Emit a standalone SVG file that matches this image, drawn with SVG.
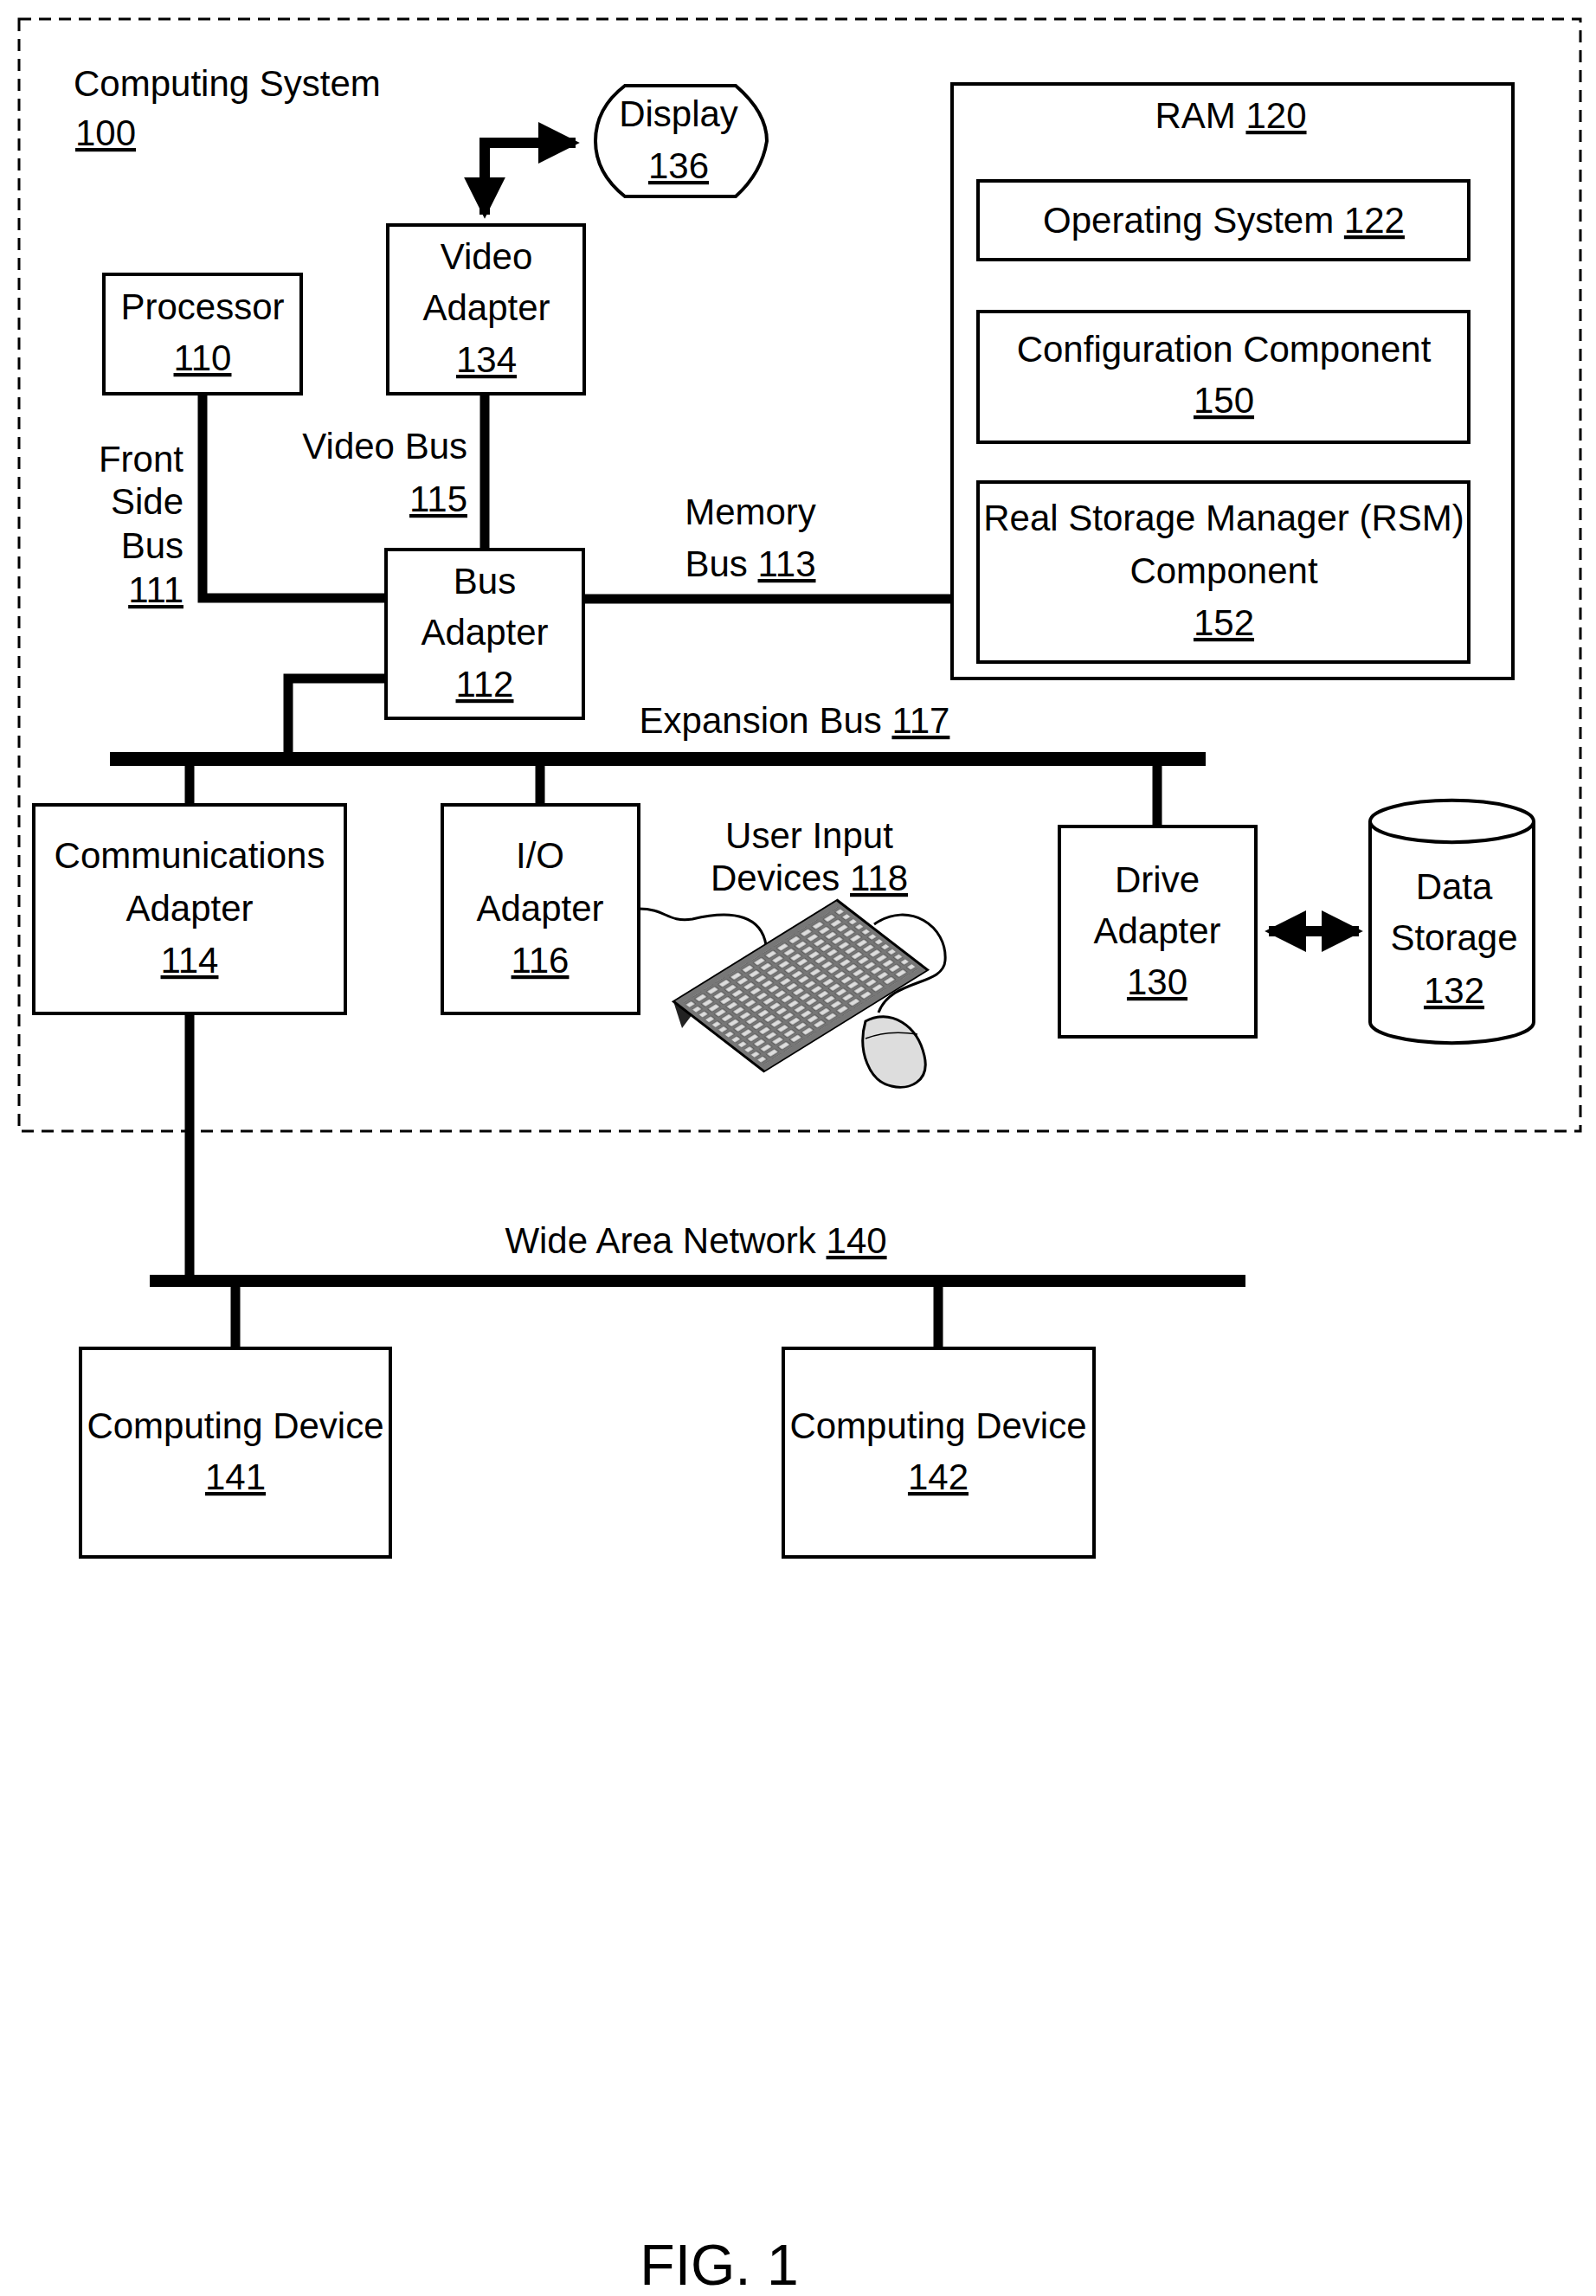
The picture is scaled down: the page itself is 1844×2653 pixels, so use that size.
<svg xmlns="http://www.w3.org/2000/svg" width="1844" height="2653" viewBox="0 0 1844 2653">
<style>
text{font-family:"Liberation Sans",Arial,sans-serif;font-size:42px;fill:#000;text-anchor:middle}
.u{text-decoration:underline}
.box{fill:#fff;stroke:#000;stroke-width:4}
.bus{fill:none;stroke:#000;stroke-width:11}
.l{text-anchor:start}.r{text-anchor:end}
</style>
<defs>
<marker id="ah" viewBox="0 0 10 10" refX="9" refY="5" markerWidth="4" markerHeight="4" orient="auto-start-reverse"><path d="M0,0L10,5L0,10z" fill="#000"/></marker>
<pattern id="keys" width="1" height="1" patternUnits="userSpaceOnUse"><rect x="0.18" y="0.2" width="0.7" height="0.6" fill="#ddd" stroke="#333" stroke-width="0.05"/></pattern>
</defs>
<rect x="22" y="22" width="1804" height="1285" fill="none" stroke="#000" stroke-width="3" stroke-dasharray="14,9"/>
<text class="l" x="85" y="111">Computing System</text>
<text class="l" x="87" y="168"><tspan class="u">100</tspan></text>
<g id="connectors">
<path class="bus" d="M234,455V691H446"/>
<path class="bus" d="M560,455V635"/>
<path class="bus" d="M674,692H1100"/>
<path class="bus" d="M446,784H333V877"/>
<path fill="none" stroke="#000" stroke-width="16" d="M127,877H1393"/>
<path class="bus" d="M219,877V930M624,877V930M1337,877V955"/>
<path class="bus" d="M219,1171V1480M272,1480V1558M1084,1480V1558"/>
<path fill="none" stroke="#000" stroke-width="14" d="M173,1480H1439"/>
<path fill="none" stroke="#000" stroke-width="12" d="M560,248V165H665" marker-start="url(#ah)" marker-end="url(#ah)"/>
<path fill="none" stroke="#000" stroke-width="12" d="M1466,1076H1570" marker-start="url(#ah)" marker-end="url(#ah)"/>
<path fill="none" stroke="#000" stroke-width="3" d="M738,1050C770,1050 770,1066 800,1062C850,1050 880,1060 885,1092"/>
<path fill="none" stroke="#000" stroke-width="3" d="M1010,1068C1050,1040 1095,1070 1092,1110C1090,1140 1030,1130 1015,1170"/>
</g>
<g id="processor"><rect class="box" x="120" y="317" width="228" height="138"/><text x="234" y="369">Processor</text><text x="234" y="428" class="u">110</text></g>
<g id="video-adapter"><rect class="box" x="448" y="260" width="227" height="195"/><text x="562" y="311">Video</text><text x="562" y="370">Adapter</text><text x="562" y="430" class="u">134</text></g>
<g id="display"><path class="box" d="M722,99L850,99Q886,130 886,163Q880,200 850,227L722,227Q688,200 688,163Q688,125 722,99Z"/><text x="784" y="146">Display</text><text x="784" y="206" class="u">136</text></g>
<text class="r" x="212" y="545">Front</text><text class="r" x="212" y="594">Side</text><text class="r" x="212" y="645">Bus</text><text class="r" x="212" y="696"><tspan class="u">111</tspan></text>
<text class="r" x="540" y="530">Video Bus</text><text class="r" x="540" y="591"><tspan class="u">115</tspan></text>
<text x="867" y="606">Memory</text><text x="867" y="666">Bus <tspan class="u">113</tspan></text>
<g id="bus-adapter"><rect class="box" x="446" y="635" width="228" height="195"/><text x="560" y="686">Bus</text><text x="560" y="745">Adapter</text><text x="560" y="805" class="u">112</text></g>
<g id="ram"><rect class="box" x="1100" y="97" width="648" height="687"/><text x="1422" y="148">RAM <tspan class="u">120</tspan></text>
<g id="os"><rect class="box" x="1130" y="209" width="567" height="91"/><text x="1414" y="269">Operating System <tspan class="u">122</tspan></text></g>
<g id="config"><rect class="box" x="1130" y="360" width="567" height="151"/><text x="1414" y="418">Configuration Component</text><text x="1414" y="477" class="u">150</text></g>
<g id="rsm"><rect class="box" x="1130" y="557" width="567" height="208"/><text x="1414" y="613">Real Storage Manager (RSM)</text><text x="1414" y="674">Component</text><text x="1414" y="734" class="u">152</text></g>
</g>
<text x="918" y="847">Expansion Bus <tspan class="u">117</tspan></text>
<g id="comm"><rect class="box" x="39" y="930" width="360" height="241"/><text x="219" y="1003">Communications</text><text x="219" y="1064">Adapter</text><text x="219" y="1124" class="u">114</text></g>
<g id="io"><rect class="box" x="511" y="930" width="227" height="241"/><text x="624" y="1003">I/O</text><text x="624" y="1064">Adapter</text><text x="624" y="1124" class="u">116</text></g>
<g id="user-input"><text x="935" y="980">User Input</text><text x="935" y="1029">Devices  <tspan class="u">118</tspan></text>
<path d="M778,1157L800,1172L788,1188Z" fill="#222"/>
<g transform="matrix(13.5,-8.36,7.5,5.79,778,1157)"><rect x="0" y="0" width="14" height="14" fill="#777" stroke="#000" stroke-width="0.2"/><rect x="0.4" y="0.8" width="13.2" height="12.4" fill="url(#keys)"/></g>
<path d="M1000,1180C1030,1165 1060,1185 1068,1220C1075,1250 1050,1260 1030,1255C1005,1250 990,1215 1000,1180Z" fill="#ddd" stroke="#000" stroke-width="3"/>
<path d="M1000,1200C1020,1192 1040,1192 1060,1195" fill="none" stroke="#000" stroke-width="1.5"/>
</g>
<g id="drive"><rect class="box" x="1224" y="955" width="227" height="243"/><text x="1337" y="1031">Drive</text><text x="1337" y="1090">Adapter</text><text x="1337" y="1149" class="u">130</text></g>
<g id="storage"><path class="box" d="M1583,949V1181A94,24 0 0 0 1772,1181V949A94,24 0 0 0 1583,949Z"/><path d="M1583,949A94,24 0 0 0 1772,949" fill="none" stroke="#000" stroke-width="4"/><text x="1680" y="1039">Data</text><text x="1680" y="1098">Storage</text><text x="1680" y="1159" class="u">132</text></g>
<text x="804" y="1448">Wide Area Network <tspan class="u">140</tspan></text>
<g id="cd141"><rect class="box" x="93" y="1558" width="358" height="241"/><text x="272" y="1662">Computing Device</text><text x="272" y="1721" class="u">141</text></g>
<g id="cd142"><rect class="box" x="905" y="1558" width="359" height="241"/><text x="1084" y="1662">Computing Device</text><text x="1084" y="1721" class="u">142</text></g>
<text x="831" y="2640" style="font-size:66px">FIG. 1</text>
</svg>
